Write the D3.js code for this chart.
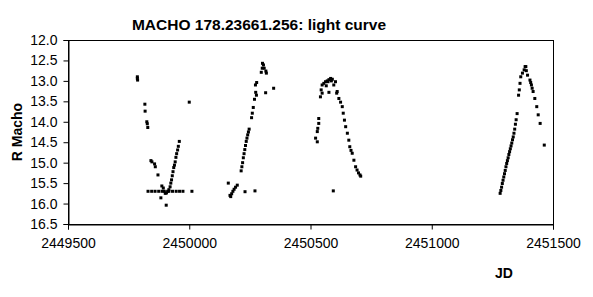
<!DOCTYPE html>
<html>
<head>
<meta charset="utf-8">
<script src="https://cdn.jsdelivr.net/npm/d3@7"></script>
<style>
  body { margin: 0; background: #fff; }
  svg { display: block; font-family: Arial, "Liberation Sans", sans-serif; }
</style>
</head>
<body>
<svg id="chart" width="593" height="297"></svg>
<script>
const WIDTH = 593, HEIGHT = 297;
const MARGIN = {left: 68, right: 40, top: 40, bottom: 73};

const TITLE = "MACHO 178.23661.256: light curve";
const X_LABEL = "JD";
const Y_LABEL = "R Macho";

const X_TICKS = [2449500, 2450000, 2450500, 2451000, 2451500];
const Y_TICKS = [12.0, 12.5, 13.0, 13.5, 14.0, 14.5, 15.0, 15.5, 16.0, 16.5];

// season 1 (1995)
const jd1 = [2449786, 2449786, 2449787, 2449817, 2449818, 2449825, 2449827, 2449829,
  2449842, 2449846, 2449857, 2449860, 2449871, 2449887, 2449883, 2449905,
  2449830, 2449845, 2449859, 2449874, 2449888, 2449916, 2449931, 2449946,
  2449960, 2449974, 2450011,
  2449893, 2449897, 2449901, 2449906, 2449911, 2449916, 2449921,
  2449924, 2449927, 2449930, 2449933, 2449936, 2449939, 2449942,
  2449945, 2449948, 2449952, 2449955, 2449959, 2450000];
const mag1 = [12.90, 12.94, 12.98, 13.57, 13.74, 14.00, 14.05, 14.14,
  14.95, 14.98, 15.03, 15.10, 15.30, 15.57, 15.86, 16.04,
  15.70, 15.70, 15.70, 15.70, 15.70, 15.70, 15.70, 15.70,
  15.70, 15.70, 15.70,
  15.62, 15.70, 15.75, 15.74, 15.70, 15.66, 15.59,
  15.50, 15.42, 15.32, 15.22, 15.12, 15.06, 14.98,
  14.87, 14.78, 14.69, 14.60, 14.48, 13.52];

// season 2 (1996)
const jd2 = [2450161, 2450168, 2450171, 2450175, 2450180, 2450185, 2450191, 2450198,
  2450230, 2450271,
  2450214, 2450217, 2450220, 2450223, 2450226, 2450229, 2450232, 2450235, 2450238,
  2450241, 2450244, 2450247,
  2450257, 2450260, 2450264, 2450269, 2450277, 2450274, 2450273, 2450278,
  2450297, 2450302, 2450306, 2450309, 2450301, 2450316, 2450318, 2450315, 2450348];
const mag2 = [15.50, 15.80, 15.83, 15.76, 15.70, 15.65, 15.60, 15.55,
  15.71, 15.69,
  15.20, 15.10, 15.00, 14.88, 14.78, 14.68, 14.58, 14.48, 14.40,
  14.32, 14.25, 14.18,
  13.90, 13.79, 13.65, 13.45, 13.35, 13.28, 13.10, 13.04,
  12.79, 12.57, 12.61, 12.69, 12.69, 12.76, 12.81, 13.29, 13.18];

// season 3 (1997)
const jd3 = [2450534, 2450534, 2450530, 2450528, 2450521, 2450528,
  2450541, 2450544, 2450548, 2450555, 2450562, 2450569, 2450576, 2450583, 2450590,
  2450596, 2450603, 2450610, 2450617,
  2450548, 2450576, 2450608, 2450572, 2450586, 2450565,
  2450624, 2450631, 2450635, 2450640, 2450645, 2450652, 2450658, 2450662, 2450667,
  2450672, 2450679, 2450686, 2450692, 2450698, 2450704, 2450707, 2450594];
const mag3 = [13.92, 14.04, 14.16, 14.24, 14.40, 14.49,
  13.39, 13.22, 13.10, 13.06, 13.02, 13.00, 12.97, 12.94, 12.96,
  13.10, 13.02, 13.26, 13.43,
  13.30, 13.28, 13.30, 13.02, 13.00, 13.12,
  13.52, 13.63, 13.79, 13.96, 14.12, 14.28, 14.45, 14.61, 14.70,
  14.77, 14.94, 15.10, 15.18, 15.25, 15.30, 15.33, 15.69];

// season 4 (1999)
const jd4 = [2451282, 2451285, 2451288, 2451291, 2451294, 2451297, 2451300, 2451303,
  2451306, 2451309, 2451312, 2451315, 2451318, 2451321, 2451324, 2451327, 2451330,
  2451333, 2451336, 2451339, 2451342, 2451345, 2451348, 2451352,
  2451358, 2451361, 2451364, 2451367, 2451374, 2451381, 2451385, 2451388,
  2451390, 2451395, 2451405, 2451408, 2451411, 2451414, 2451418, 2451425,
  2451433, 2451439, 2451447, 2451464];
const mag4 = [15.75, 15.68, 15.60, 15.51, 15.43, 15.35, 15.27, 15.19,
  15.10, 15.02, 14.95, 14.88, 14.80, 14.73, 14.66, 14.59, 14.52,
  14.44, 14.37, 14.28, 14.18, 14.06, 13.95, 13.80,
  13.35, 13.22, 13.06, 12.90, 12.81, 12.73, 12.65, 12.65,
  12.75, 12.86, 12.98, 13.04, 13.10, 13.18, 13.26, 13.43,
  13.63, 13.83, 14.04, 14.57];

const points = [[jd1, mag1], [jd2, mag2], [jd3, mag3], [jd4, mag4]]
  .flatMap(([j, m]) => j.map((d, i) => ({jd: d, mag: m[i]})));

const svg = d3.select("#chart");
const plotW = WIDTH - MARGIN.left - MARGIN.right;
const plotH = HEIGHT - MARGIN.top - MARGIN.bottom;

const x = d3.scaleLinear().domain([2449500, 2451500]).range([MARGIN.left, MARGIN.left + plotW]);
const y = d3.scaleLinear().domain([12.0, 16.5]).range([MARGIN.top, MARGIN.top + plotH]);

// plot frame
svg.append("rect")
  .attr("x", MARGIN.left + 0.5).attr("y", MARGIN.top + 0.5)
  .attr("width", plotW).attr("height", plotH)
  .attr("fill", "none").attr("stroke", "#000");

svg.append("g")
  .attr("transform", `translate(0,${MARGIN.top + plotH + 0.5})`)
  .call(d3.axisBottom(x).tickValues(X_TICKS).tickFormat(d3.format("d")).tickSizeOuter(0).tickSize(5).tickPadding(9))
  .call(g => g.selectAll("text").attr("font-size", 14).attr("fill", "#000").attr("font-family", "Arial, 'Liberation Sans', sans-serif"))
  .call(g => g.selectAll("line,path").attr("stroke", "#000"));

svg.append("g")
  .attr("transform", `translate(${MARGIN.left + 0.5},0)`)
  .call(d3.axisLeft(y).tickValues(Y_TICKS).tickFormat(d3.format(".1f")).tickSizeOuter(0).tickSize(5).tickPadding(6))
  .call(g => g.selectAll("text").attr("font-size", 14).attr("fill", "#000").attr("font-family", "Arial, 'Liberation Sans', sans-serif"))
  .call(g => g.selectAll("line,path").attr("stroke", "#000"));

// markers
svg.append("g").selectAll("rect")
  .data(points)
  .join("rect")
  .attr("x", d => x(d.jd) - 1.5)
  .attr("y", d => y(d.mag) - 1.5)
  .attr("width", 3).attr("height", 3)
  .attr("fill", "#000");

svg.append("text")
  .attr("x", 259).attr("y", 30)
  .attr("text-anchor", "middle")
  .attr("font-weight", "bold").attr("font-size", 15.5)
  .text(TITLE);

svg.append("text")
  .attr("transform", `translate(22,${MARGIN.top + plotH / 2}) rotate(-90)`)
  .attr("text-anchor", "middle")
  .attr("font-weight", "bold").attr("font-size", 14)
  .text(Y_LABEL);

svg.append("text")
  .attr("x", 504).attr("y", 278)
  .attr("text-anchor", "middle")
  .attr("font-weight", "bold").attr("font-size", 14)
  .text(X_LABEL);
</script>
</body>
</html>
